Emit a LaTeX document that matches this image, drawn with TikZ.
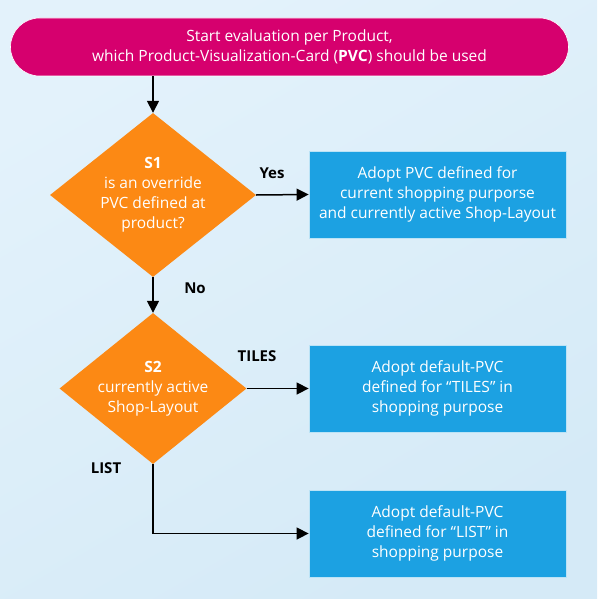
\documentclass[tikz,border=0pt]{standalone}
\usepackage{fontspec}
\setmainfont{Open Sans}
\usetikzlibrary{shapes.geometric,shapes.misc,arrows.meta}
\definecolor{bgA}{RGB}{227,242,251}
\definecolor{bgB}{RGB}{213,234,247}
\definecolor{pink}{RGB}{214,0,110}
\definecolor{orng}{RGB}{252,137,20}
\definecolor{blu}{RGB}{28,161,226}
\tikzset{
  txt/.style={text=white,font=\fontsize{15.5}{20}\selectfont,align=center},
  startbox/.style={txt,rounded rectangle,fill=pink,draw=white,line width=0.6pt,minimum width=558pt,minimum height=58pt,inner sep=0pt},
  decide/.style={diamond,fill=orng,inner sep=0pt},
  actbox/.style={txt,rectangle,fill=blu,draw=white!70!blu,line width=0.8pt,minimum width=257pt,minimum height=87pt,inner sep=0pt},
  conn/.style={line width=1.5pt,-{Triangle[length=12pt,width=12pt]}},
  lbl/.style={font=\fontsize{15}{16}\selectfont\bfseries,text=black}
}
\begin{document}
\begin{tikzpicture}[x=1pt,y=-1pt]
\shade[top color=bgA,bottom color=bgB,shading angle=30] (0,0) rectangle (597,599);
\useasboundingbox (0,0) rectangle (597,599);
\node[startbox] (start) at (289.5,47) {Start evaluation per Product,\\which Product-Visualization-Card (\textbf{PVC}) should be used};
\node[decide,minimum width=206pt,minimum height=164pt] (s1) at (153,195) {};
\node[txt] (s1t) at (s1.center) {\textbf{S1}\\is an override\\PVC defined at\\product?};
\node[actbox] (a1) at (437.5,194.5) {Adopt PVC defined for\\current shopping purporse\\and currently active Shop-Layout};
\node[decide,minimum width=187pt,minimum height=151pt] (s2) at (153,388.5) {};
\node[txt] (s2t) at (s2.center) {\textbf{S2}\\currently active\\Shop-Layout};
\node[actbox] (a2) at (437.5,388.5) {Adopt default-PVC\\defined for “TILES” in\\shopping purpose};
\node[actbox] (a3) at (437.5,533.5) {Adopt default-PVC\\defined for “LIST” in\\shopping purpose};
\draw[conn] (start.south -| s1.north) -- (s1.north);
\draw[conn] (s1.east) -- (a1.west);
\draw[conn] (s1.south) -- (s2.north);
\draw[conn] (s2.east) -- (a2.west);
\draw[conn] (s2.south) |- (a3.west);
\node[lbl] (yes) at (272,173) {Yes};
\node[lbl] (no) at (195,288) {No};
\node[lbl] (tiles) at (257,356) {TILES};
\node[lbl] (list) at (106,468) {LIST};
\end{tikzpicture}
\end{document}
